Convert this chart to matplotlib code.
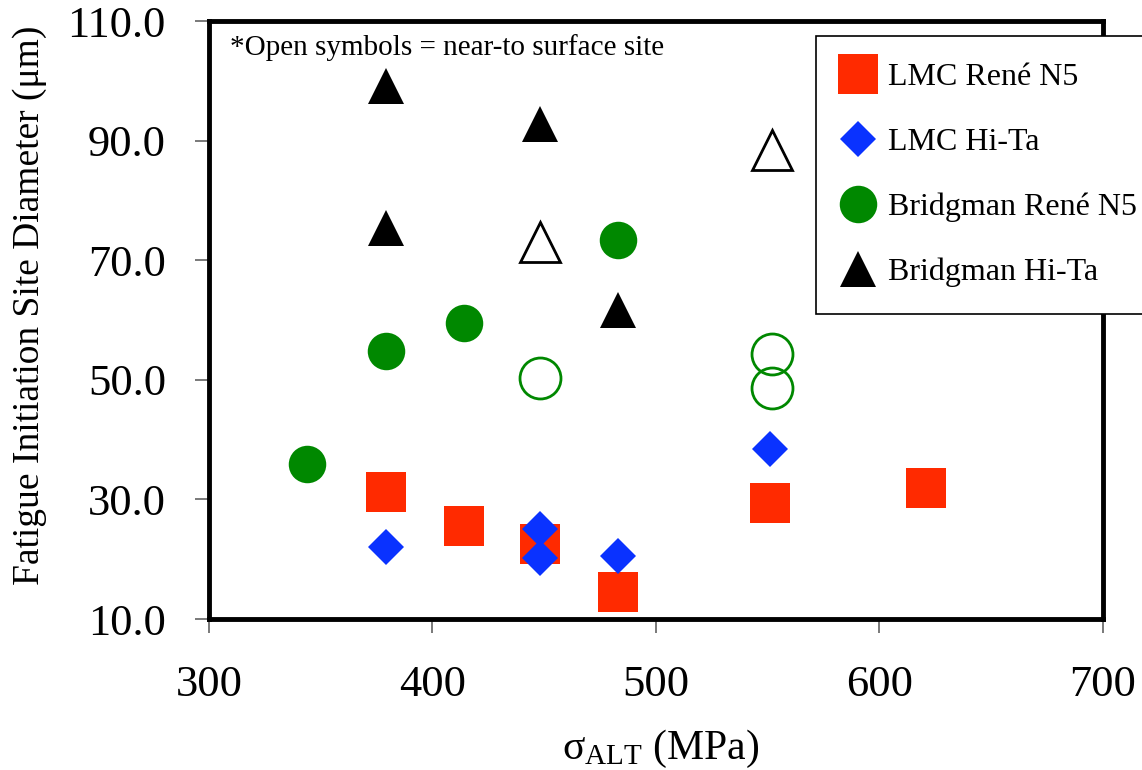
import matplotlib
matplotlib.use('Agg')
import matplotlib.pyplot as plt

plt.rcParams['font.family'] = ['Liberation Serif', 'DejaVu Serif']
plt.rcParams['mathtext.fontset'] = 'custom'
plt.rcParams['mathtext.rm'] = 'Liberation Serif'
plt.rcParams['mathtext.it'] = 'Liberation Serif:italic'

# LMC René N5 (filled squares)
lmc_n5_x = [379, 414, 448, 483, 551, 621]
lmc_n5_y = [31.2, 25.5, 22.6, 14.5, 29.4, 31.9]

# LMC Hi-Ta (filled diamonds)
lmc_hita_x = [379, 448, 448, 483, 551]
lmc_hita_y = [22.0, 25.1, 20.2, 20.5, 38.4]

# Bridgman René N5: filled = interior site, open = near-to surface site
bn5_x = [344, 379, 414, 483]
bn5_y = [36.0, 54.8, 59.6, 73.5]
bn5_open_x = [448, 552, 552]
bn5_open_y = [50.4, 54.4, 48.7]

# Bridgman Hi-Ta
bhita_x = [379, 448, 379, 483]
bhita_y = [99.2, 92.8, 75.5, 61.7]
bhita_open_x = [448, 552]
bhita_open_y = [73.1, 88.5]

xticks = [300, 400, 500, 600, 700]
yticks = [10, 30, 50, 70, 90, 110]

red = '#ff2a00'
blue = '#0a32ff'
green = '#008800'

fig = plt.figure(figsize=(11.42, 7.7), dpi=100)
ax = fig.add_axes([0.183, 0.1961, 0.7828, 0.776])

ax.plot(lmc_n5_x, lmc_n5_y, 's', ms=28.8, mfc=red, mec=red, mew=0, label='LMC René N5')
ax.plot(lmc_hita_x, lmc_hita_y, 'D', ms=18.5, mfc=blue, mec=blue, mew=0, label='LMC Hi-Ta')
ax.plot(bn5_x, bn5_y, 'o', ms=27, mfc=green, mec=green, mew=0, label='Bridgman René N5')
ax.plot(bn5_open_x, bn5_open_y, 'o', ms=29.5, mfc='none', mec=green, mew=2)
ax.plot(bhita_x, bhita_y, '^', ms=26.5, mfc='black', mec='black', mew=0, label='Bridgman Hi-Ta')
ax.plot(bhita_open_x, bhita_open_y, '^', ms=28.5, mfc='none', mec='black', mew=2)

ax.set_xlim(300, 700)
ax.set_ylim(10, 110)
ax.set_xticks(xticks)
ax.set_yticks(yticks)
ax.set_yticklabels([f'{v:.1f}' for v in yticks])

for s in ax.spines.values():
    s.set_linewidth(3.5)
    s.set_color('black')

ax.tick_params(axis='both', direction='out', color='#555555', width=1.1, labelsize=32)
ax.tick_params(axis='x', length=10, pad=23)
ax.tick_params(axis='y', length=10, pad=21)

ax.set_xlabel(r'$\mathrm{σ}_{\mathrm{ALT}}$ (MPa)', fontsize=30, va='baseline')
ax.xaxis.set_label_coords(0.5056, -0.2343)
ax.set_ylabel('Fatigue Initiation Site Diameter (μm)', fontsize=27,
              va='center', ha='center', rotation_mode='anchor')
ax.yaxis.set_label_coords(-0.2002, 0.5247)

ax.text(0.0235, 0.944, '*Open symbols = near-to surface site', transform=ax.transAxes,
        fontsize=21, va='baseline', ha='left')

leg = ax.legend(loc='upper left', bbox_to_anchor=(0.7145, 0.953), bbox_transform=fig.transFigure,
                borderaxespad=0, fontsize=23, frameon=True, fancybox=False, framealpha=1,
                edgecolor='black', labelspacing=1.11, borderpad=0.84, handlelength=0.93,
                handletextpad=0.5, numpoints=1)
leg.get_frame().set_linewidth(1.2)

fig.savefig('out.png', dpi=100)
